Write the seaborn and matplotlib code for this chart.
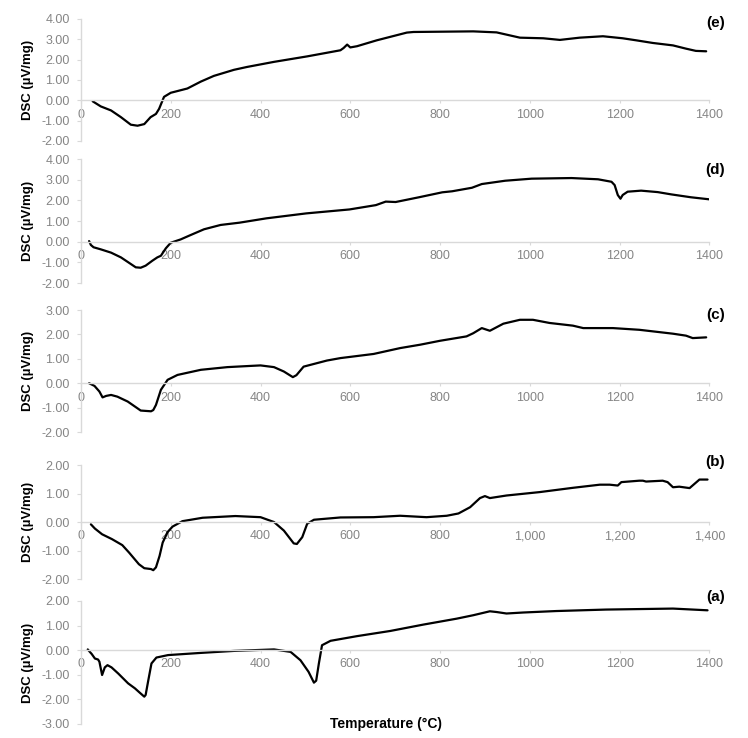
"""
DSC curves for samples (a)-(e), stacked panels in the Excel style.
"""

import matplotlib

matplotlib.use("Agg")

import matplotlib.pyplot as plt
import numpy as np
import seaborn as sns
from matplotlib.ticker import FuncFormatter, FormatStrFormatter

# ---- data (temperature in °C, DSC in µV/mg) ----
temp_e = [26, 44, 67, 89, 111, 126, 141, 155, 167, 174, 185, 200, 237, 267, 296, 341, 370,
          430, 504, 578, 585, 593, 600, 615, 659, 726, 741, 874, 926, 948, 978, 1030, 1067,
          1111, 1163, 1207, 1237, 1274, 1319, 1348, 1370, 1393]
dsc_e = [-0.05, -0.30, -0.50, -0.83, -1.20, -1.25, -1.17, -0.83, -0.67, -0.42, 0.17, 0.37,
         0.58, 0.92, 1.20, 1.50, 1.64, 1.89, 2.16, 2.46, 2.57, 2.74, 2.60, 2.66, 2.95, 3.33,
         3.36, 3.39, 3.34, 3.23, 3.08, 3.05, 2.97, 3.08, 3.15, 3.05, 2.95, 2.82, 2.70, 2.54,
         2.43, 2.41]

temp_d = [18, 22, 28, 44, 67, 89, 111, 122, 133, 144, 159, 170, 178, 189, 200, 222, 244,
          274, 311, 353, 413, 502, 598, 657, 679, 701, 753, 805, 827, 871, 893, 945, 1004,
          1093, 1152, 1182, 1189, 1196, 1202, 1207, 1218, 1248, 1285, 1315, 1359, 1400]
dsc_d = [0.03, -0.16, -0.27, -0.37, -0.53, -0.76, -1.08, -1.24, -1.26, -1.16, -0.92, -0.76,
         -0.68, -0.32, -0.05, 0.11, 0.32, 0.60, 0.81, 0.92, 1.13, 1.37, 1.56, 1.77, 1.94,
         1.92, 2.15, 2.39, 2.44, 2.61, 2.79, 2.95, 3.05, 3.08, 3.02, 2.90, 2.74, 2.26, 2.08,
         2.26, 2.42, 2.47, 2.40, 2.29, 2.15, 2.05]

temp_c = [18, 30, 41, 48, 56, 67, 81, 104, 126, 133, 156, 161, 167, 178, 193, 215, 267, 326,
          378, 400, 430, 452, 472, 480, 496, 548, 578, 652, 711, 756, 800, 859, 874, 893,
          911, 941, 978, 1007, 1044, 1096, 1119, 1185, 1244, 1319, 1348, 1363, 1393]
dsc_c = [0.00, -0.11, -0.34, -0.58, -0.52, -0.48, -0.55, -0.75, -1.03, -1.12, -1.15, -1.10,
         -0.89, -0.27, 0.14, 0.34, 0.55, 0.66, 0.71, 0.73, 0.66, 0.48, 0.25, 0.33, 0.68,
         0.93, 1.03, 1.20, 1.44, 1.58, 1.74, 1.92, 2.05, 2.26, 2.15, 2.44, 2.60, 2.60, 2.47,
         2.36, 2.26, 2.26, 2.19, 2.03, 1.95, 1.85, 1.88]

temp_b = [22, 31, 47, 69, 92, 107, 129, 141, 156, 161, 167, 175, 182, 193, 204, 226, 271,
          344, 400, 430, 452, 474, 481, 493, 504, 519, 578, 652, 711, 770, 815, 841, 867,
          889, 900, 911, 948, 1022, 1096, 1156, 1178, 1196, 1204, 1244, 1252, 1259, 1296,
          1307, 1319, 1333, 1356, 1378, 1396]
dsc_b = [-0.08, -0.23, -0.43, -0.60, -0.81, -1.07, -1.48, -1.62, -1.65, -1.69, -1.59, -1.19,
         -0.72, -0.35, -0.16, 0.03, 0.15, 0.21, 0.17, 0.00, -0.30, -0.75, -0.77, -0.53,
         -0.06, 0.08, 0.16, 0.17, 0.22, 0.17, 0.22, 0.30, 0.52, 0.84, 0.91, 0.84, 0.93, 1.05,
         1.20, 1.31, 1.31, 1.28, 1.40, 1.45, 1.45, 1.42, 1.45, 1.40, 1.22, 1.24, 1.19, 1.49,
         1.49]

temp_a = [15, 24, 31, 38, 41, 47, 53, 59, 68, 83, 105, 120, 131, 141, 144, 150, 157, 168,
          194, 268, 341, 430, 467, 489, 507, 519, 524, 530, 537, 556, 615, 689, 763, 837,
          874, 911, 926, 948, 985, 1059, 1170, 1319, 1396]
dsc_a = [0.03, -0.16, -0.34, -0.38, -0.47, -1.01, -0.70, -0.61, -0.70, -0.95, -1.35, -1.55,
         -1.73, -1.89, -1.82, -1.22, -0.54, -0.30, -0.20, -0.11, -0.03, 0.03, -0.07, -0.41,
         -0.88, -1.32, -1.24, -0.54, 0.20, 0.38, 0.57, 0.78, 1.04, 1.28, 1.42, 1.58, 1.55,
         1.49, 1.53, 1.59, 1.65, 1.69, 1.62]

x_ticks = [0, 200, 400, 600, 800, 1000, 1200, 1400]

# panel: (label, temps, dsc, y-limits, comma thousands?)
panels = [
    ("(e)", temp_e, dsc_e, (-2, 4), False),
    ("(d)", temp_d, dsc_d, (-2, 4), False),
    ("(c)", temp_c, dsc_c, (-2, 3), False),
    ("(b)", temp_b, dsc_b, (-2, 2), True),
    ("(a)", temp_a, dsc_a, (-3, 2), False),
]

# axes boxes in figure fractions [left, bottom, width, height]
boxes = [
    [0.1083, 0.809, 0.840, 0.1653],
    [0.1083, 0.6165, 0.840, 0.168],
    [0.1083, 0.4146, 0.840, 0.1653],
    [0.1083, 0.2154, 0.840, 0.1545],
    [0.1083, 0.019, 0.840, 0.1667],
]
label_y = [0.967, 0.911, 0.959, 1.026, 1.03]

sns.set_theme(style="white")
plt.rcParams["font.family"] = ["Liberation Sans", "DejaVu Sans"]

GRID_GREY = "#d9d9d9"
TEXT_GREY = "#858585"

fig = plt.figure(figsize=(7.48, 7.38), dpi=100)

for (tag, temps, dsc, ylim, comma), box, ly in zip(panels, boxes, label_y):
    ax = fig.add_axes(box)
    sns.lineplot(x=np.array(temps), y=np.array(dsc), color="black", linewidth=1.6,
                 sort=False, estimator=None, ax=ax)

    ax.set_xlim(0, 1400)
    ax.set_ylim(*ylim)
    ax.set_xticks(x_ticks)
    ax.set_yticks(np.arange(ylim[0], ylim[1] + 0.5, 1.0))
    ax.yaxis.set_major_formatter(FormatStrFormatter("%.2f"))
    if comma:
        ax.xaxis.set_major_formatter(FuncFormatter(lambda v, _: f"{v:,.0f}"))
    else:
        ax.xaxis.set_major_formatter(FuncFormatter(lambda v, _: f"{v:.0f}"))

    # Excel-like axes: x axis crosses at zero, light grey lines
    ax.spines["top"].set_visible(False)
    ax.spines["right"].set_visible(False)
    ax.spines["bottom"].set_position(("data", 0))
    for side in ("left", "bottom"):
        ax.spines[side].set_color(GRID_GREY)
        ax.spines[side].set_linewidth(1.0)

    ax.tick_params(axis="both", which="major", direction="out", color=GRID_GREY,
                   labelcolor=TEXT_GREY, labelsize=9, width=0.8)
    ax.tick_params(axis="x", length=2.5, pad=3.5, bottom=True)
    ax.tick_params(axis="y", length=3, pad=5, left=True)
    ax.grid(False)
    ax.set_facecolor("none")

    ax.set_ylabel("DSC (µV/mg)", fontsize=9.5, fontweight="bold", color="black")
    ax.yaxis.set_label_coords(-0.075, 0.5)
    ax.set_xlabel("")

    ax.text(1.025, ly, tag, transform=ax.transAxes, ha="right", va="center",
            fontsize=11, fontweight="bold", color="black")

    if tag == "(a)":
        ax.set_xlabel("Temperature (°C)", fontsize=10, fontweight="bold", color="black")
        ax.xaxis.set_label_coords(0.486, 0.055)

fig.savefig("out.png", dpi=100)
plt.close(fig)
